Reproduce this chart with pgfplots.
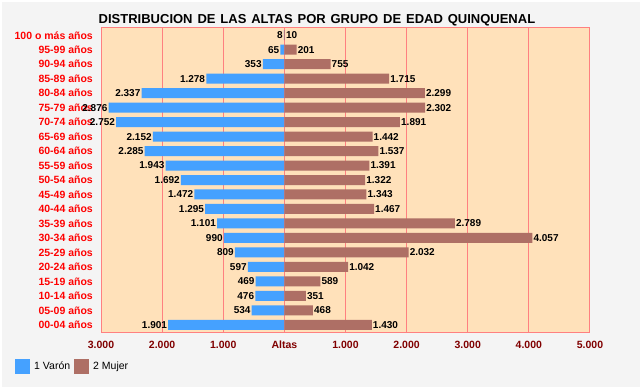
\documentclass[border=0pt]{standalone}
\usepackage{fontspec}
\setmainfont{Liberation Sans}
\newfontfamily\titlefont[WordSpace=1.35]{Liberation Sans}
\usepackage{pgfplots}
\pgfplotsset{compat=1.18}
\definecolor{bgc}{HTML}{F4F4F4}
\definecolor{plotbg}{HTML}{FFE1BA}
\definecolor{gridc}{HTML}{FF8080}
\definecolor{varon}{HTML}{45A1FF}
\definecolor{mujer}{HTML}{AE6F65}
\definecolor{tickred}{HTML}{800000}
\begin{document}
\begin{tikzpicture}[x=1pt,y=1pt]
\fill[white] (0,0) rectangle (642,389);
\fill[bgc] (2,2) rectangle (640,387);
\begin{axis}[
  at={(101pt,57pt)}, anchor=south west,
  scale only axis, width=489pt, height=304pt,
  xmin=-3000, xmax=5000, ymin=-0.5, ymax=20.5,
  xbar, bar width=10pt, bar shift=0pt,
  clip=false,
  axis background/.style={fill=plotbg},
  axis line style={draw=gridc, line width=1pt},
  xmajorgrids, grid style={draw=gridc, line width=1pt},
  major tick length=0pt,
  xtick={-3000,-2000,...,5000},
  xticklabels={3.000,2.000,1.000,Altas,1.000,2.000,3.000,4.000,5.000},
  xticklabel style={font=\fontsize{10.5}{12}\selectfont\bfseries, text=tickred, yshift=-5.5pt},
  ytick={0,...,20},
  yticklabels={00-04 años,05-09 años,10-14 años,15-19 años,20-24 años,25-29 años,30-34 años,35-39 años,40-44 años,45-49 años,50-54 años,55-59 años,60-64 años,65-69 años,70-74 años,75-79 años,80-84 años,85-89 años,90-94 años,95-99 años,100 o más años},
  yticklabel style={font=\fontsize{10.5}{12}\selectfont\bfseries, text=red, anchor=east, inner xsep=0pt, xshift=-8pt},
  /pgf/number format/assume math mode=true,
  /pgf/number format/1000 sep={.},
  point meta=explicit,
  nodes near coords,
  every node near coord/.append style={font=\fontsize{10}{12}\selectfont\bfseries, text=black, inner xsep=1pt},
  every axis title shift=0pt,
  title={\titlefont\bfseries DISTRIBUCION DE LAS ALTAS POR GRUPO DE EDAD QUINQUENAL},
  title style={at={(axis description cs:0.4417,1.033)}, anchor=center, yshift=-2pt, font=\fontsize{13}{15}\selectfont},
  legend columns=2,
  legend style={at={(axis description cs:-0.1759,-0.1135)}, anchor=west, draw=none, fill=none, inner sep=0pt,
    font=\fontsize{10.5}{12}\selectfont, nodes={inner xsep=4pt}},
]
\addplot[fill=varon, draw=none, every node near coord/.append style={anchor=east},
  legend image code/.code={\fill[varon] (0pt,-7.5pt) rectangle (15pt,7.5pt);}] coordinates {
(-1901,0)[1901] (-534,1)[534] (-476,2)[476] (-469,3)[469] (-597,4)[597] (-809,5)[809] (-990,6)[990]
(-1101,7)[1101] (-1295,8)[1295] (-1472,9)[1472] (-1692,10)[1692] (-1943,11)[1943] (-2285,12)[2285]
(-2152,13)[2152] (-2752,14)[2752] (-2876,15)[2876] (-2337,16)[2337] (-1278,17)[1278] (-353,18)[353]
(-65,19)[65] (-8,20)[8]
};
\addlegendentry{1 Varón}
\addplot[fill=mujer, draw=none, every node near coord/.append style={anchor=west},
  legend image code/.code={\fill[mujer] (0pt,-7.5pt) rectangle (15pt,7.5pt);}] coordinates {
(1430,0)[1430] (468,1)[468] (351,2)[351] (589,3)[589] (1042,4)[1042] (2032,5)[2032] (4057,6)[4057]
(2789,7)[2789] (1467,8)[1467] (1343,9)[1343] (1322,10)[1322] (1391,11)[1391] (1537,12)[1537]
(1442,13)[1442] (1891,14)[1891] (2302,15)[2302] (2299,16)[2299] (1715,17)[1715] (755,18)[755]
(201,19)[201] (10,20)[10]
};
\addlegendentry{2 Mujer}
\end{axis}
\end{tikzpicture}
\end{document}
